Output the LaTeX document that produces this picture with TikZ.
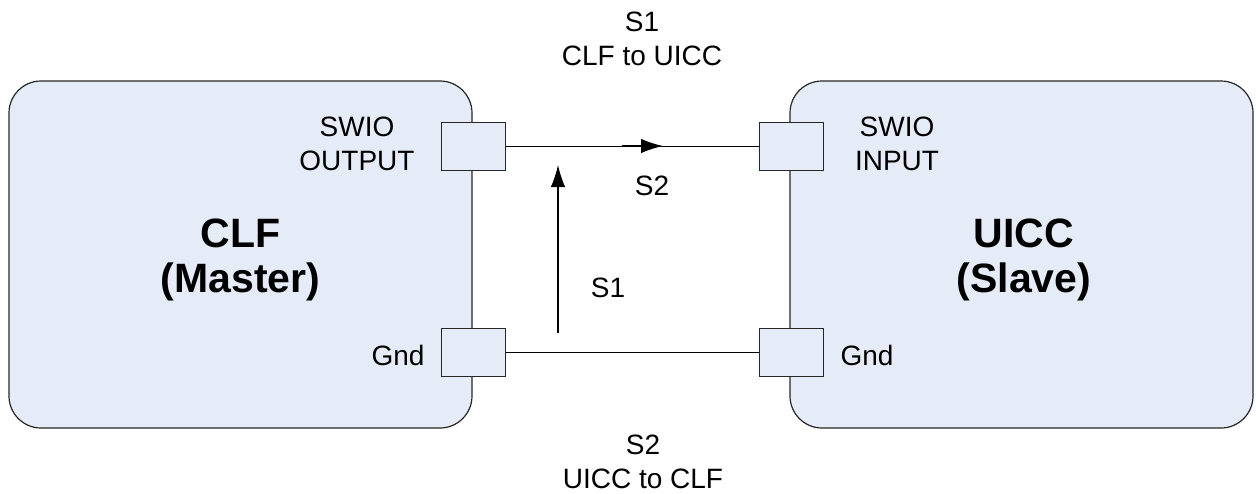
\documentclass[tikz,border=0pt]{standalone}
\usepackage{fontspec}
\setmainfont{Liberation Sans}
\usetikzlibrary{arrows.meta,positioning}
\definecolor{boxBlue}{RGB}{230,236,247}
\colorlet{edgeGray}{black!85}

\begin{document}
\begin{tikzpicture}[x=1pt, y=-1pt,
    every node/.style={font=\fontsize{28}{34}\selectfont, inner sep=0pt},
    device/.style={draw=edgeGray, line width=1.2pt, fill=boxBlue, rounded corners=32pt,
        minimum width=463pt, minimum height=347pt},
    port/.style={draw=edgeGray, line width=1pt, fill=boxBlue, minimum width=64pt, minimum height=48pt},
    title/.style={font=\fontsize{41}{45}\selectfont\bfseries, align=center, anchor=base},
    lbl/.style={align=center, anchor=base},
    wire/.style={line width=1pt},
    flow/.style={line width=1.3pt, -{Latex[length=22pt, width=14.5pt]}}]

    \useasboundingbox (0,0) rectangle (1256,493);

    % devices
    \node[device] (clf) at (240.5,254.5) {};
    \node[device] (uicc) at (1021.5,254.5) {};

    % ports on the device edges
    \node[port] (swo) at (473.5,146) {};
    \node[port] (gndl) at (473.5,352) {};
    \node[port] (swi) at (791,146) {};
    \node[port] (gndr) at (791,352) {};

    % wires
    \draw[wire] (swo) -- (swi);
    \draw[wire] (gndl) -- (gndr);

    % direction arrows
    \coordinate (s2tail) at (622,146);
    \coordinate (s2tip) at (663,146);
    \draw[flow] (s2tail) -- (s2tip);

    \coordinate (s1tail) at (558,333);
    \coordinate (s1tip) at (558,165);
    \draw[flow] (s1tail) -- (s1tip);

    % device names (base = last line)
    \node[title] (clfname) at (240.5,292) {CLF\\(Master)};
    \node[title] (uiccname) at (1024,292) {UICC\\(Slave)};

    % port labels
    \node[lbl] (swolbl) at (357,170) {SWIO\\OUTPUT};
    \node[lbl] (swilbl) at (897,170) {SWIO\\INPUT};
    \node[lbl] (gndllbl) at (398,365) {Gnd};
    \node[lbl] (gndrlbl) at (867,365) {Gnd};

    % signal labels
    \node[lbl] (toplbl) at (642,65) {S1\\CLF to UICC};
    \node[lbl] (botlbl) at (643,488) {S2\\UICC to CLF};
    \node[lbl] (s2lbl) at (652,195) {S2};
    \node[lbl] (s1lbl) at (608,297) {S1};

\end{tikzpicture}
\end{document}
